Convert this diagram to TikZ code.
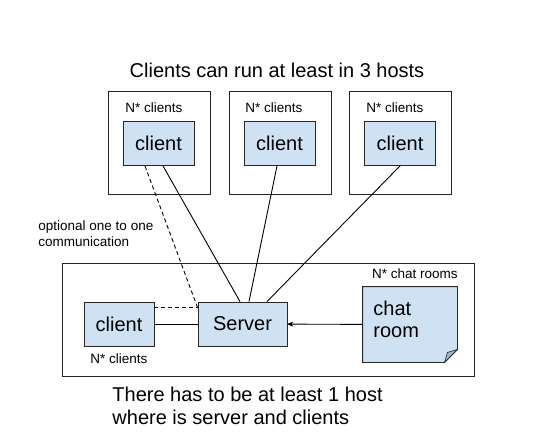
\documentclass[tikz,border=0pt]{standalone}
\usepackage{fontspec}
\setmainfont{Liberation Sans}
\usetikzlibrary{arrows,positioning}
\definecolor{boxblue}{HTML}{CFE2F3}
\definecolor{foldgray}{HTML}{A4B4C2}

\begin{document}
\begin{tikzpicture}[x=1pt,y=-1pt,>=stealth',line width=0.9pt]
        \tikzstyle{host}=[draw=black!85,fill=none,minimum width=102pt,minimum height=103pt,inner sep=0pt]
        \tikzstyle{box}=[draw=black!85,fill=boxblue,minimum width=71pt,minimum height=44pt,inner sep=0pt,font=\fontsize{20}{23}\selectfont]
        \tikzstyle{big}=[inner sep=0pt,font=\fontsize{20}{23}\selectfont,align=left]
        \tikzstyle{small}=[inner sep=0pt,font=\fontsize{13.5}{16}\selectfont,align=left]
        \useasboundingbox (0,0) rectangle (535,432);

        \node[big,anchor=base]       (title) at (277,77)  {Clients can run at least in 3 hosts};

        \node[host]                  (H1)    at (159,142.5)   {};
        \node[host]                  (H2)    at (280,142.5)   {};
        \node[host]                  (H3)    at (400.5,142.5) {};

        \node[small,anchor=base west] (L1)   at (125,112) {N* clients};
        \node[small,anchor=base west] (L2)   at (245,112) {N* clients};
        \node[small,anchor=base west] (L3)   at (366,112) {N* clients};

        \node[box]                   (C1)    at (158.5,143.5) {client};
        \node[box]                   (C2)    at (279.5,143.5) {client};
        \node[box]                   (C3)    at (400,143.5)   {client};

        \node[small,anchor=base west] (opt)  at (38,246) {optional one to one\\communication};

        \node[host,minimum width=412pt,minimum height=113pt] (H0) at (268,319.5) {};
        \node[small,anchor=base east] (L0)   at (458,278) {N* chat rooms};

        \node[box,minimum width=70pt]  (C0)  at (119,324)   {client};
        \node[small,anchor=base west]  (L4)  at (90,363)    {N* clients};
        \node[box,minimum width=89pt]  (S)   at (242.5,324) {Server};

        \node[minimum width=94pt,minimum height=75pt,inner sep=0pt] (R) at (410,324.5) {};
        \draw[draw=black!85,fill=boxblue] (R.north west) -- (R.north east) -- ([yshift=13]R.south east)
              -- ([xshift=-13]R.south east) -- (R.south west) -- cycle;
        \draw[draw=black!85,fill=foldgray,line width=0.6pt] ([yshift=13]R.south east) -- ([xshift=-13]R.south east)
              -- ([xshift=-10,yshift=10]R.south east) -- cycle;
        \node[big,anchor=base west,font=\fontsize{20}{22}\selectfont] (Rtext) at (373,337) {chat\\room};

        \node[big,anchor=base west]  (foot)  at (112,424) {There has to be at least 1 host\\where is server and clients};

        \draw ([xshift=4.5]C1.south)  -- ([xshift=-2.5]S.north);
        \draw ([xshift=-2.5]C2.south) -- ([xshift=6.5]S.north);
        \draw (C3.south)              -- ([xshift=24.5]S.north);
        \draw[dashed,dash pattern=on 4pt off 3pt] ([xshift=-13.5]C1.south) -- ([yshift=-6]S.north west);
        \draw[dashed,dash pattern=on 4pt off 3pt] ([yshift=-6]C0.north east) -- ([yshift=-6]S.north west);
        \draw (C0) -- (S);
        \draw[->] (R) -- (S);
\end{tikzpicture}
\end{document}
